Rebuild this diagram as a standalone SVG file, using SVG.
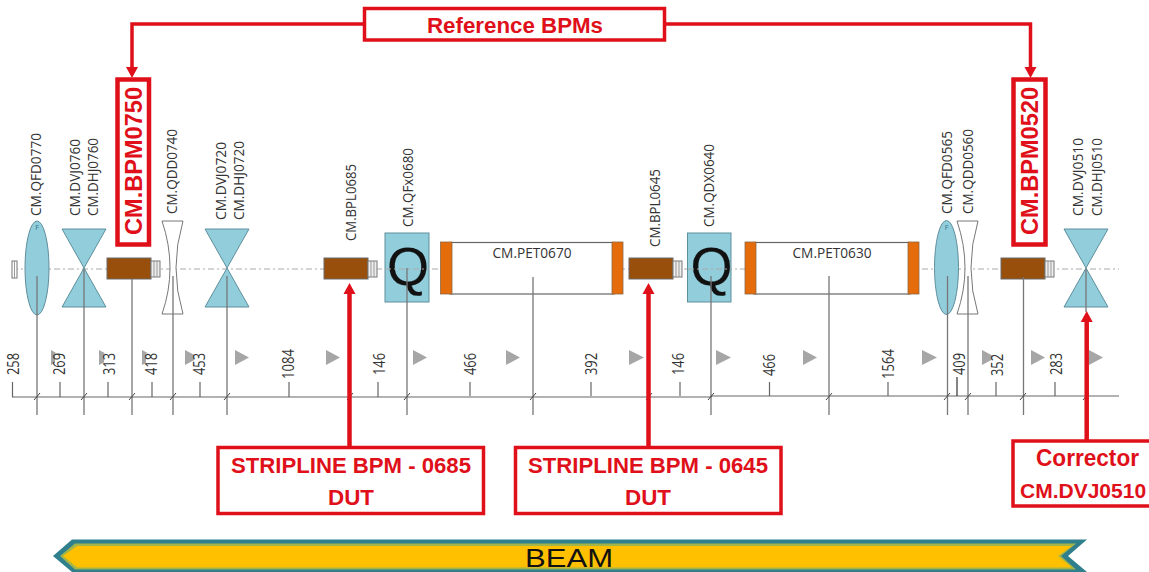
<svg xmlns="http://www.w3.org/2000/svg" xmlns:xlink="http://www.w3.org/1999/xlink" width="1149" height="572" viewBox="0 0 1149 572">
<style>
text{font-family:"Open Sans","Liberation Sans",sans-serif;fill:#333}
.el{font-size:15px}
.num{font-size:15.5px}
.red{font-family:"Liberation Sans",Arial,sans-serif;font-weight:700;fill:#e0101a}
.rbox{fill:#fff;stroke:#e0101a;stroke-width:3.5}
.rbox2{fill:#fff;stroke:#e0101a;stroke-width:4.5}
.rline{fill:none;stroke:#e0101a;stroke-width:3.5}
.rthick{fill:none;stroke:#e0101a;stroke-width:4.5}
.arrow{fill:#e0101a}
.blue{fill:#92cddc;stroke:#5f8f9c;stroke-width:1}
.brown{fill:#974f0b;stroke:#6b6b6b;stroke-width:1}
.conn{fill:#eee;stroke:#777;stroke-width:1}
.lens{fill:#fff;stroke:#777;stroke-width:1}
.orange{fill:#e46c0a;stroke:#8a6a4a;stroke-width:.8}
.pipe{fill:#fff;stroke:#666;stroke-width:1.2}
.stem{stroke:#777;stroke-width:1.3;fill:none}
.axis{stroke:#666;stroke-width:1.2;fill:none}
.tick{stroke:#666;stroke-width:1.2;fill:none}
.slash{stroke:#444;stroke-width:1;fill:none}
.dash{stroke:#aaa;stroke-width:1;stroke-dasharray:6 3 2 3;fill:none}
.tri{fill:#a6a6a6}
.mask{fill:#fff}
.q{font-family:"Liberation Sans",Arial,sans-serif;font-size:54px;fill:#111;stroke:#111;stroke-width:.2;text-anchor:middle}
.f{font-size:7px;fill:#31708a;text-anchor:middle}
</style>
<defs>
<g id="bowtie"><path class="blue" d="M-22,-40 H22 L-22,38 H22 Z"/></g>
<g id="bpm">
<rect class="brown" x="0" y="0" width="44" height="21"/>
<rect class="conn" x="44" y="3" width="9" height="16"/>
<path d="M47,3V19M50,3V19" stroke="#999" stroke-width="1" fill="none"/>
</g>
<g id="lens"><path class="lens" d="M-11,-47 H10 Q-4,0 10,46 H-11 Q5,0 -11,-47 Z"/></g>
<g id="qf"><ellipse class="blue" cx="0" cy="0" rx="12" ry="47"/><text class="f" x="0" y="-38">F</text></g>
</defs>

<rect width="1149" height="572" fill="#fff"/>

<path id="beamline" class="dash" d="M12,269 H1119"/>

<g id="scale">
<path class="tri" d="M51,350 L64,357.5 L51,365 Z M99,350 L113,357.5 L99,365 Z M142,350 L156,357.5 L142,365 Z M185,350 L199,357.5 L185,365 Z M235,350 L249,357.5 L235,365 Z M326,350 L340,357.5 L326,365 Z M413,350 L427,357.5 L413,365 Z M506,350 L520,357.5 L506,365 Z M629,350 L644,357.5 L629,365 Z M716,350 L731,357.5 L716,365 Z M803,350 L817,357.5 L803,365 Z M922,350 L937,357.5 L922,365 Z M982,350 L996,357.5 L982,365 Z M1031,350 L1045,357.5 L1031,365 Z M1089,350 L1103,357.5 L1089,365 Z"/>
<path class="mask" d="M55,353.5h12v23h-12z M104,353.5h13v23h-13z M146,353.5h13v23h-13z M194,353.5h13v23h-13z M992,353.5h13v23h-13z"/>
<text class="num" transform="translate(19,375) rotate(-90)" textLength="22" lengthAdjust="spacingAndGlyphs">258</text>
<text class="num" transform="translate(65,375) rotate(-90)" textLength="22" lengthAdjust="spacingAndGlyphs">269</text>
<text class="num" transform="translate(115,375) rotate(-90)" textLength="22" lengthAdjust="spacingAndGlyphs">313</text>
<text class="num" transform="translate(157,375) rotate(-90)" textLength="22" lengthAdjust="spacingAndGlyphs">418</text>
<text class="num" transform="translate(205,375) rotate(-90)" textLength="22" lengthAdjust="spacingAndGlyphs">453</text>
<text class="num" transform="translate(294,379) rotate(-90)" textLength="30" lengthAdjust="spacingAndGlyphs">1084</text>
<text class="num" transform="translate(385,375) rotate(-90)" textLength="22" lengthAdjust="spacingAndGlyphs">146</text>
<text class="num" transform="translate(476,375) rotate(-90)" textLength="22" lengthAdjust="spacingAndGlyphs">466</text>
<text class="num" transform="translate(597,375) rotate(-90)" textLength="22" lengthAdjust="spacingAndGlyphs">392</text>
<text class="num" transform="translate(684,375) rotate(-90)" textLength="22" lengthAdjust="spacingAndGlyphs">146</text>
<text class="num" transform="translate(775,376) rotate(-90)" textLength="22" lengthAdjust="spacingAndGlyphs">466</text>
<text class="num" transform="translate(894,379) rotate(-90)" textLength="30" lengthAdjust="spacingAndGlyphs">1564</text>
<text class="num" transform="translate(965,375) rotate(-90)" textLength="22" lengthAdjust="spacingAndGlyphs">409</text>
<text class="num" transform="translate(1003,376) rotate(-90)" textLength="22" lengthAdjust="spacingAndGlyphs">352</text>
<text class="num" transform="translate(1062,375) rotate(-90)" textLength="22" lengthAdjust="spacingAndGlyphs">283</text>
</g>

<g id="start-marker"><rect x="12" y="261" width="5" height="17" fill="#fff" stroke="#777"/><path d="M14.5,261V278" stroke="#999"/></g>

<g id="QFD0770"><use xlink:href="#qf" href="#qf" x="37" y="268"/><text class="el" transform="translate(41,216) rotate(-90)" textLength="83" lengthAdjust="spacingAndGlyphs">CM.QFD0770</text></g>
<g id="DVJ0760"><use xlink:href="#bowtie" href="#bowtie" x="84" y="269"/><text class="el" transform="translate(80,216) rotate(-90)" textLength="77" lengthAdjust="spacingAndGlyphs">CM.DVJ0760</text><text class="el" transform="translate(98,216) rotate(-90)" textLength="78" lengthAdjust="spacingAndGlyphs">CM.DHJ0760</text></g>
<g id="BPM0750"><use xlink:href="#bpm" href="#bpm" x="107" y="258"/></g>
<g id="QDD0740"><use xlink:href="#lens" href="#lens" x="173" y="268"/><text class="el" transform="translate(177,214) rotate(-90)" textLength="85" lengthAdjust="spacingAndGlyphs">CM.QDD0740</text></g>
<g id="DVJ0720"><use xlink:href="#bowtie" href="#bowtie" x="227" y="269"/><text class="el" transform="translate(226,220) rotate(-90)" textLength="78" lengthAdjust="spacingAndGlyphs">CM.DVJ0720</text><text class="el" transform="translate(244,220) rotate(-90)" textLength="79" lengthAdjust="spacingAndGlyphs">CM.DHJ0720</text></g>
<g id="BPL0685"><use xlink:href="#bpm" href="#bpm" x="324" y="258"/><text class="el" transform="translate(356,241) rotate(-90)" textLength="77" lengthAdjust="spacingAndGlyphs">CM.BPL0685</text></g>
<g id="QFx0680"><rect class="blue" x="385" y="233" width="44" height="69"/><text class="q" x="408" y="285">Q</text><text class="el" transform="translate(413,227) rotate(-90)" textLength="79" lengthAdjust="spacingAndGlyphs">CM.QFx0680</text></g>
<g id="PET0670"><rect class="pipe" x="450" y="242.500" width="164" height="51.500"/><rect class="orange" x="440.500" y="242" width="11.500" height="52"/><rect class="orange" x="612" y="242" width="11" height="52"/><text class="el" x="532" y="258" text-anchor="middle" textLength="79" lengthAdjust="spacingAndGlyphs">CM.PET0670</text></g>
<g id="BPL0645"><use xlink:href="#bpm" href="#bpm" x="629" y="258"/><text class="el" transform="translate(660,247) rotate(-90)" textLength="78" lengthAdjust="spacingAndGlyphs">CM.BPL0645</text></g>
<g id="QDX0640"><rect class="blue" x="687.500" y="233" width="43.500" height="69"/><text class="q" x="711.500" y="285">Q</text><text class="el" transform="translate(714,227) rotate(-90)" textLength="83" lengthAdjust="spacingAndGlyphs">CM.QDX0640</text></g>
<g id="PET0630"><rect class="pipe" x="754" y="242.500" width="156" height="51.500"/><rect class="orange" x="745" y="242" width="11" height="52"/><rect class="orange" x="908" y="242" width="11" height="52"/><text class="el" x="832" y="258" text-anchor="middle" textLength="79" lengthAdjust="spacingAndGlyphs">CM.PET0630</text></g>
<g id="QDD0560"><use xlink:href="#lens" href="#lens" x="968" y="268"/><text class="el" transform="translate(973,214) rotate(-90)" textLength="85" lengthAdjust="spacingAndGlyphs">CM.QDD0560</text></g>
<g id="QFD0565"><use xlink:href="#qf" href="#qf" x="946.500" y="267.500"/><text class="el" transform="translate(952,214) rotate(-90)" textLength="83" lengthAdjust="spacingAndGlyphs">CM.QFD0565</text></g>
<g id="BPM0520"><use xlink:href="#bpm" href="#bpm" x="1001" y="258"/></g>
<g id="DVJ0510"><use xlink:href="#bowtie" href="#bowtie" x="1086" y="269"/><text class="el" transform="translate(1083,216) rotate(-90)" textLength="78" lengthAdjust="spacingAndGlyphs">CM.DVJ0510</text><text class="el" transform="translate(1102,216) rotate(-90)" textLength="78" lengthAdjust="spacingAndGlyphs">CM.DHJ0510</text></g>

<g id="connectors">
<path class="dash" d="M385,269H429 M688,269H731"/>
<path class="axis" d="M12,397 H711 L711,396 H1119"/>
<path class="tick" d="M12.500,382V397 M60,382V397 M108,382V397 M152,382V397 M200,382V397 M289,382V397 M378,382V397 M470,382V396 M591,382V396 M680,382V396 M769.500,382V396 M888,382V396 M996,382V396 M1055,382V396"/>
<path d="M957,377V396" stroke="#333" stroke-width="1.200" fill="none"/>
<path class="stem" d="M37,276V415 M84,269V415 M132,279V415 M173,276V415 M227,276V415 M407,268V415 M533,277V415 M711,276V415 M829,276V415 M947.500,276V415 M968,276V415 M1023.500,277V415 M1086,269V312"/>
<path class="slash" d="M34,400L40,393 M81,400L87,393 M129,400L135,393 M170,400L176,393 M224,400L230,393 M347,400L353,393 M404,400L410,393 M530,400L536,393 M646,400L652,393 M708,400L714,393 M826,400L832,393 M944,400L950,393 M965,400L971,393 M1020,400L1026,393 M1083,400L1089,393"/>
<path class="rline" d="M364,24 H132 V68"/>
<path class="rline" d="M665,24 H1030.500 V68"/>
<path class="rthick" d="M349.500,293 V447"/>
<path class="rthick" d="M648.500,293 V447"/>
<path class="rthick" d="M1086.700,322 V440"/>
<path class="arrow" d="M132,78 L126,67 H138 Z M1030.500,78 L1024.500,67 H1036.500 Z M349.500,283 L343.500,294 H355.500 Z M648.500,283 L642.500,294 H654.500 Z M1086.700,311 L1080.700,322 H1092.700 Z"/>
</g>

<g id="reference-bpms"><rect class="rbox" x="364.500" y="8.500" width="300" height="31.500"/><text class="red" x="515" y="33" font-size="22" text-anchor="middle" textLength="176" lengthAdjust="spacingAndGlyphs">Reference BPMs</text></g>
<g id="label-bpm0750"><rect class="rbox2" x="117.500" y="79.500" width="31.500" height="165"/><text class="red" transform="translate(142,235) rotate(-90)" font-size="24" textLength="148" lengthAdjust="spacingAndGlyphs">CM.BPM0750</text></g>
<g id="label-bpm0520"><rect class="rbox2" x="1013.500" y="79.500" width="32" height="165"/><text class="red" transform="translate(1037.500,235) rotate(-90)" font-size="24" textLength="148" lengthAdjust="spacingAndGlyphs">CM.BPM0520</text></g>
<g id="stripline-0685"><rect class="rbox" x="218" y="447.500" width="265.500" height="66"/><text class="red" x="351" y="473" font-size="22" text-anchor="middle" textLength="240" lengthAdjust="spacingAndGlyphs">STRIPLINE BPM - 0685</text><text class="red" x="351" y="505" font-size="22" text-anchor="middle" textLength="46" lengthAdjust="spacingAndGlyphs">DUT</text></g>
<g id="stripline-0645"><rect class="rbox" x="515.500" y="447.500" width="265.500" height="66"/><text class="red" x="648" y="473" font-size="22" text-anchor="middle" textLength="240" lengthAdjust="spacingAndGlyphs">STRIPLINE BPM - 0645</text><text class="red" x="648" y="505" font-size="22" text-anchor="middle" textLength="46" lengthAdjust="spacingAndGlyphs">DUT</text></g>
<g id="corrector"><rect class="rbox" x="1013" y="441" width="150" height="65"/><text class="red" x="1087.500" y="466" font-size="23" text-anchor="middle" textLength="103" lengthAdjust="spacingAndGlyphs">Corrector</text><text class="red" x="1020" y="498" font-size="21">CM.DVJ0510</text></g>

<g id="beam">
<polygon fill="#2f7f8c" points="53,556 72,539.500 1087,539.500 1068,556 1087,572 72,572"/>
<polygon fill="#a3b54a" points="60,556 75,543.500 1076,543.500 1061,556 1076,569.500 75,569.500"/>
<polygon fill="#ffc000" points="63,556 77,546 1072,546 1058,556 1072,567.500 77,567.500"/>
<text x="569" y="566.500" font-size="26" text-anchor="middle" textLength="88" lengthAdjust="spacingAndGlyphs" style="font-family:'Liberation Sans',Arial,sans-serif;fill:#111">BEAM</text>
</g>
</svg>
